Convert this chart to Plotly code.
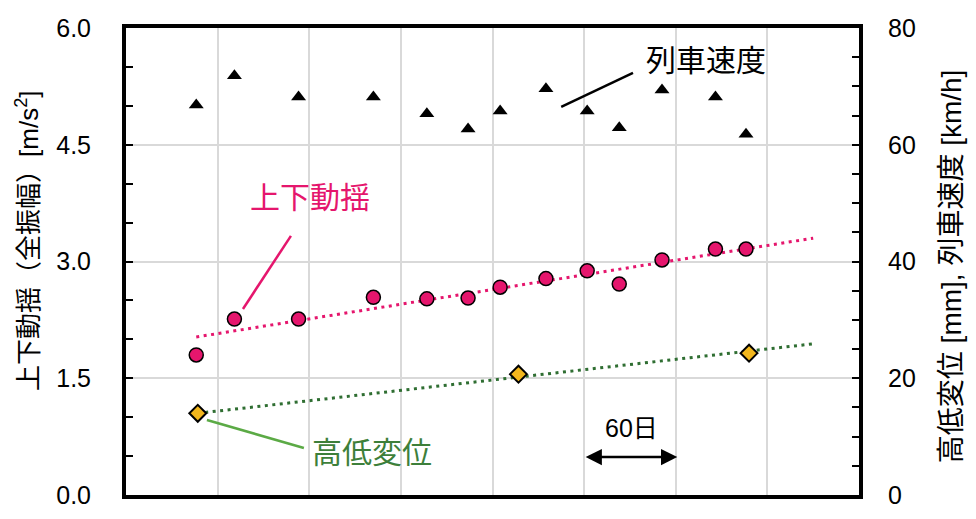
import plotly.graph_objects as go

# ---- data (x in days) ----
speed_days = [46, 71, 113, 162, 197, 224, 245, 275, 302, 323, 351, 386, 406]
speed_kmh = [66.8, 71.8, 68.2, 68.2, 65.3, 62.7, 65.8, 69.6, 65.8, 62.9, 69.4, 68.2, 61.8]

vib_days = [46, 71, 113, 162, 197, 224, 245, 275, 302, 323, 351, 386, 406]
vib_ms2 = [1.80, 2.26, 2.26, 2.54, 2.52, 2.53, 2.67, 2.78, 2.88, 2.71, 3.02, 3.16, 3.16]

disp_days = [47, 257, 408]
disp_mm = [14.0, 20.7, 24.3]

vib_trend_days = [46, 450]
vib_trend = [2.03, 3.30]
disp_trend_days = [47, 450]
disp_trend = [14.0, 25.9]

PINK = "#E5166D"
GOLD = "#F2B71D"
DGREEN = "#2F6E32"
TGREEN = "#3D7F3A"
LGREEN = "#5BAA45"
FONT = "Liberation Sans, Arial, Noto Sans CJK JP"

fig = go.Figure()

fig.add_trace(go.Scatter(x=vib_trend_days, y=vib_trend, mode="lines", yaxis="y",
                         line=dict(color=PINK, width=3, dash="3px,4.5px"), showlegend=False))
fig.add_trace(go.Scatter(x=disp_trend_days, y=disp_trend, mode="lines", yaxis="y2",
                         line=dict(color=DGREEN, width=3, dash="3px,4.5px"), showlegend=False))
fig.add_trace(go.Scatter(x=speed_days, y=speed_kmh, mode="markers", yaxis="y2",
                         marker=dict(symbol="triangle-up", size=13, color="black"), showlegend=False))
fig.add_trace(go.Scatter(x=vib_days, y=vib_ms2, mode="markers", yaxis="y",
                         marker=dict(symbol="circle", size=14, color=PINK,
                                     line=dict(color="black", width=1.5)), showlegend=False))
fig.add_trace(go.Scatter(x=disp_days, y=disp_mm, mode="markers", yaxis="y2",
                         marker=dict(symbol="diamond", size=13, color=GOLD,
                                     line=dict(color="black", width=2)), showlegend=False))

# leader lines
fig.add_shape(type="line", xref="x", yref="y2", x0=285, y0=66.5, x1=332, y1=72.3,
              line=dict(color="black", width=2.5))
fig.add_shape(type="line", xref="x", yref="y", x0=76.6, y0=2.39, x1=108, y1=3.33,
              line=dict(color=PINK, width=2.5))
fig.add_shape(type="line", xref="x", yref="y2", x0=53, y0=12.85, x1=116.5, y1=8.05,
              line=dict(color=LGREEN, width=2.5))

fig.add_annotation(x=380, y=74.5, xref="x", yref="y2", text="列車速度", showarrow=False,
                   font=dict(size=30, color="black", family=FONT))
fig.add_annotation(x=120.4, y=3.82, xref="x", yref="y", text="上下動揺", showarrow=False,
                   font=dict(size=30, color=PINK, family=FONT))
fig.add_annotation(x=161, y=7.2, xref="x", yref="y2", text="高低変位", showarrow=False,
                   font=dict(size=30, color=TGREEN, family=FONT))
fig.add_annotation(x=331, y=11.45, xref="x", yref="y2", text="60日", showarrow=False,
                   font=dict(size=25, color="black", family=FONT))
fig.add_annotation(x=361, y=6.5, ax=300, ay=6.5, xref="x", yref="y2", axref="x", ayref="y2",
                   text="", showarrow=True, arrowhead=2, arrowside="end+start",
                   arrowsize=1.3, arrowwidth=2.5, arrowcolor="black")

# axis titles as rotated annotations
fig.add_annotation(xref="paper", yref="paper", x=-0.1337, y=0.544, textangle=-90,
                   xanchor="center", yanchor="middle",
                   text="上下動揺（全振幅）[m/s<sup>2</sup>]", showarrow=False,
                   font=dict(size=26, color="black", family=FONT))
fig.add_annotation(xref="paper", yref="paper", x=1.1255, y=0.49, textangle=-90,
                   xanchor="center", yanchor="middle",
                   text="高低変位 [mm], 列車速度 [km/h]", showarrow=False,
                   font=dict(size=28, color="black", family=FONT))

# page body has an 8px margin; margins compensate so the plot sits where the reference has it
fig.update_layout(
    width=976, height=519,
    margin=dict(l=118, r=125, t=20, b=32),
    paper_bgcolor="white", plot_bgcolor="white",
    font=dict(family=FONT, color="black", size=25),
    xaxis=dict(range=[0, 480], dtick=60, tick0=0, showticklabels=False, ticks="",
               showgrid=True, gridcolor="#d9d9d9", gridwidth=2, zeroline=False,
               showline=True, linecolor="black", linewidth=4, mirror=True,
               automargin=False),
    yaxis=dict(range=[0, 6], dtick=1.5, tick0=0, tickformat=".1f",
               ticks="inside", ticklen=7, tickwidth=2, tickcolor="black",
               minor=dict(dtick=0.5, ticks="inside", ticklen=7, tickwidth=2,
                          tickcolor="black", showgrid=False),
               showgrid=True, gridcolor="#d9d9d9", gridwidth=2, zeroline=False,
               showline=True, linecolor="black", linewidth=4, mirror=True,
               ticklabelstandoff=26, tickfont=dict(size=25), automargin=False),
    yaxis2=dict(range=[0, 80], dtick=20, tick0=0, overlaying="y", side="right",
                ticks="inside", ticklen=7, tickwidth=2, tickcolor="black",
                minor=dict(dtick=5, ticks="inside", ticklen=7, tickwidth=2,
                           tickcolor="black", showgrid=False),
                showgrid=False, zeroline=False,
                showline=True, linecolor="black", linewidth=4,
                ticklabelstandoff=20, tickfont=dict(size=25), automargin=False),
)

fig.write_html("out.html")
